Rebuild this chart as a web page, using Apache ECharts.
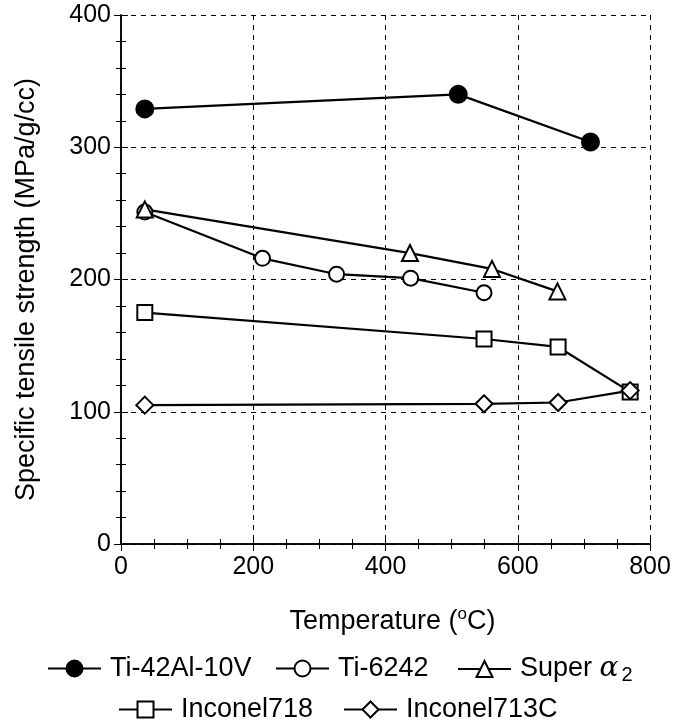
<!DOCTYPE html>
<html>
<head>
<meta charset="UTF-8">
<title>Specific tensile strength</title>
<script src="https://cdn.jsdelivr.net/npm/echarts@6/dist/echarts.min.js"></script>
</head>
<body style="margin:0">
<div id="main" style="width:675px;height:722px"></div>
<script>
// data: [temperature (°C), specific strength (MPa/g/cc)]
var names = ['Ti-42Al-10V', 'Ti-6242', 'Super α2', 'Inconel718', 'Inconel713C'];
var ti42Al = [[36, 329], [510, 340], [710, 304]];
var ti6242 = [[36, 251], [214, 216], [326, 204], [438, 201], [549, 190]];
var superA2 = [[36, 253], [437, 220], [561, 208], [660, 191]];
var inconel718 = [[36, 175], [549, 155], [661, 149], [770, 115]];
var inconel713C = [[36, 105], [549, 106], [661, 107], [770, 116]];

var font = 'Liberation Sans, Arial, sans-serif';
var chart = echarts.init(document.getElementById('main'));

function axisBase(show) {
    return {
        axisLine: {show: true, lineStyle: {color: '#000', width: 1.5}},
        axisTick: {show: true, inside: true, length: 7, lineStyle: {color: '#000', width: 1}},
        minorTick: {show: true, length: 5, lineStyle: {color: '#000', width: 1}},
        axisLabel: {show: show, color: '#000', fontSize: 25, fontFamily: font, margin: 11},
        splitLine: {show: show, lineStyle: {color: '#000', type: [5, 5], width: 1}}
    };
}

function mk(name, data, symbol, size, fill) {
    return {
        name: name, type: 'line', data: data,
        symbol: symbol, symbolSize: size,
        lineStyle: {color: '#000', width: 2.2},
        itemStyle: {color: fill, borderColor: '#000', borderWidth: 2},
        emphasis: {disabled: true},
        animation: false
    };
}

var xb = axisBase(true), xt = axisBase(false), yl = axisBase(true), yr = axisBase(false);
xb.minorTick.splitNumber = 4;
xt.minorTick.splitNumber = 4;
yl.minorTick.splitNumber = 5;
yr.minorTick.splitNumber = 5;
yl.axisLabel.margin = 10;

var legendText = {
    color: '#000', fontSize: 27, fontFamily: font, padding: [0, 0, 0, 4],
    rich: {
        t: {fontSize: 27, fontFamily: font, color: '#000'},
        a: {fontSize: 28, fontFamily: 'DejaVu Serif, serif', fontStyle: 'italic', color: '#000'},
        s: {fontSize: 20, fontFamily: font, color: '#000', padding: [12, 0, 0, 3]}
    }
};
function legendFmt(n) {
    return n === 'Super α2' ? '{t|Super }{a|α}{s|2}' : n;
}
// one legend box per entry, placed like the original figure
var legendPos = [[47, 655], [275, 655], [457, 655], [118, 696], [343, 696]];
var legends = names.map(function (n, i) {
    return {data: [n], left: legendPos[i][0], top: legendPos[i][1], padding: 0,
        itemWidth: 53, itemHeight: 20, textStyle: legendText, formatter: legendFmt,
        selectedMode: false};
});

chart.setOption({
    animation: false,
    grid: {left: 121, right: 25, top: 15, bottom: 178},
    legend: legends,
    xAxis: [
        Object.assign(xb, {
            type: 'value', min: 0, max: 800, interval: 200, position: 'bottom',
            name: 'Temperature ({sup|o}C)', nameLocation: 'middle', nameGap: 62,
            nameTextStyle: {color: '#000', fontSize: 27, fontFamily: font, padding: [0, 0, 0, 14],
                rich: {sup: {fontSize: 17, fontFamily: font, color: '#000', padding: [0, 0, 14, 0]}}}
        }),
        Object.assign(xt, {type: 'value', min: 0, max: 800, interval: 200, position: 'top'})
    ],
    yAxis: [
        Object.assign(yl, {
            type: 'value', min: 0, max: 400, interval: 100, position: 'left',
            name: 'Specific tensile strength (MPa/g/cc)', nameLocation: 'middle', nameGap: 81,
            nameTextStyle: {color: '#000', fontSize: 27, fontFamily: font, padding: [0, 20, 0, 0]}
        }),
        Object.assign(yr, {type: 'value', min: 0, max: 400, interval: 100, position: 'right'})
    ],
    series: [
        mk(names[0], ti42Al, 'circle', 17, '#000'),
        mk(names[1], ti6242, 'circle', 15, '#fff'),
        mk(names[2], superA2, 'triangle', 16, '#fff'),
        mk(names[3], inconel718, 'rect', 15, '#fff'),
        mk(names[4], inconel713C, 'diamond', 17, '#fff')
    ]
});
</script>
</body>
</html>
